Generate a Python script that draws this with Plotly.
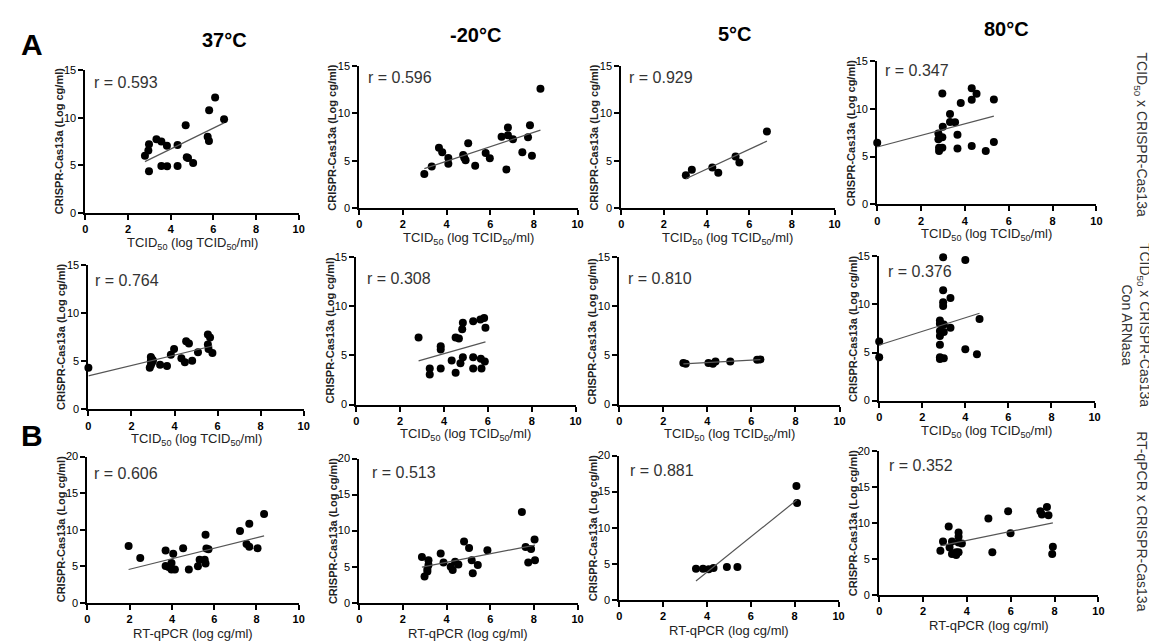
import numpy as np
import plotly.graph_objects as go

# ---------------- data ----------------
# Row A1: TCID50 x CRISPR-Cas13a
tcid_37_x = [2.79, 2.98, 2.95, 2.98, 3.33, 3.56, 3.82, 3.56, 3.83, 4.32, 4.32, 4.70, 4.81, 4.75, 5.05, 5.73, 5.79, 5.80, 6.08, 6.50]
tcid_37_y = [6.02, 7.22, 6.57, 4.40, 7.74, 7.50, 7.05, 4.95, 4.92, 7.15, 4.95, 9.22, 5.78, 5.85, 5.26, 8.00, 7.57, 10.77, 12.11, 9.84]

tcid_m20_x = [2.98, 3.32, 3.65, 3.80, 4.08, 4.08, 4.76, 4.81, 4.87, 4.99, 5.31, 5.79, 5.98, 6.52, 6.81, 6.81, 6.74, 7.04, 7.47, 7.73, 7.82, 7.91, 8.30]
tcid_m20_y = [3.62, 4.41, 6.38, 5.90, 5.31, 4.69, 5.62, 5.34, 5.07, 6.86, 4.48, 5.83, 5.28, 7.55, 8.52, 7.69, 4.10, 7.28, 5.90, 7.48, 8.76, 5.55, 12.59]

tcid_5_x = [3.03, 3.31, 4.27, 4.55, 5.36, 5.54, 6.83]
tcid_5_y = [3.48, 4.07, 4.31, 3.76, 5.45, 4.83, 8.10]

tcid_80_x = [0.00, 2.79, 2.79, 2.82, 2.82, 2.97, 2.97, 2.97, 2.99, 3.32, 3.32, 3.55, 3.66, 3.66, 3.81, 4.31, 4.31, 4.31, 4.53, 4.95, 5.32, 5.32]
tcid_80_y = [6.44, 7.43, 6.82, 5.92, 5.58, 7.02, 5.92, 11.61, 8.12, 9.45, 8.63, 8.60, 7.29, 5.86, 10.62, 12.16, 10.96, 6.10, 11.58, 5.58, 10.99, 6.54]

# Row A2: TCID50 x CRISPR-Cas13a con ARNasa
rnase_37_x = [0.00, 2.85, 2.90, 2.95, 2.90, 2.95, 2.90, 3.00, 3.33, 3.65, 3.83, 3.98, 4.32, 4.48, 4.54, 4.67, 4.82, 5.09, 5.55, 5.65, 5.55, 5.58, 5.76]
rnase_37_y = [4.34, 4.35, 4.60, 4.85, 5.05, 5.25, 5.45, 5.10, 4.65, 4.51, 5.70, 6.28, 5.33, 4.92, 7.09, 6.86, 5.06, 5.94, 7.80, 7.47, 6.75, 6.28, 5.87]

rnase_m20_x = [2.84, 3.35, 3.35, 3.85, 3.85, 3.85, 4.35, 4.53, 4.53, 4.68, 4.75, 4.86, 4.86, 4.83, 5.33, 5.33, 5.33, 5.66, 5.68, 5.71, 5.83, 5.86, 5.89]
rnase_m20_y = [6.83, 3.67, 3.07, 5.93, 5.60, 3.67, 4.50, 3.23, 6.83, 6.73, 4.20, 4.83, 8.33, 7.67, 8.50, 4.83, 3.67, 8.67, 4.67, 3.67, 8.83, 4.40, 7.83]

rnase_5_x = [2.91, 3.02, 4.05, 4.25, 4.37, 5.04, 6.26, 6.41]
rnase_5_y = [4.23, 4.17, 4.23, 4.17, 4.40, 4.40, 4.57, 4.60]

rnase_80_x = [0.00, 0.00, 2.82, 2.82, 2.82, 2.82, 2.82, 2.82, 2.82, 2.97, 2.97, 2.97, 2.97, 3.00, 3.00, 3.00, 3.31, 3.31, 4.00, 4.00, 4.54, 4.66]
rnase_80_y = [6.14, 4.50, 8.32, 8.00, 7.23, 6.72, 5.80, 4.50, 4.33, 14.90, 11.49, 10.23, 9.85, 7.91, 7.13, 4.40, 10.67, 7.57, 14.63, 5.35, 4.81, 8.49]

# Row B: RT-qPCR x CRISPR-Cas13a
pcr_37_x = [1.95, 2.50, 3.70, 3.70, 3.84, 3.98, 4.06, 3.98, 4.14, 4.53, 4.80, 5.23, 5.31, 5.55, 5.59, 5.59, 5.63, 5.73, 7.22, 7.66, 7.53, 7.66, 8.05, 8.36]
pcr_37_y = [7.77, 6.12, 7.14, 5.04, 4.91, 5.45, 6.70, 4.55, 4.55, 7.46, 4.55, 5.00, 5.89, 5.89, 9.29, 5.36, 7.41, 7.32, 9.82, 10.80, 8.04, 7.68, 7.46, 12.14]

pcr_m20_x = [2.87, 2.99, 3.17, 3.17, 3.12, 3.12, 3.73, 3.86, 4.19, 4.28, 4.39, 4.54, 4.80, 5.03, 5.15, 5.20, 5.43, 5.87, 7.45, 7.62, 7.74, 7.87, 8.03, 8.05]
pcr_m20_y = [6.36, 3.64, 5.91, 5.23, 4.68, 4.32, 6.82, 5.59, 5.00, 4.55, 5.68, 5.32, 8.50, 7.59, 5.91, 4.09, 5.23, 7.27, 12.59, 7.73, 5.59, 7.45, 8.77, 5.91]

pcr_5_x = [3.50, 3.82, 4.08, 4.30, 4.91, 5.39, 8.08, 8.11]
pcr_5_y = [4.32, 4.32, 4.23, 4.41, 4.55, 4.55, 15.77, 13.41]

pcr_80_x = [2.79, 2.91, 3.17, 3.21, 3.32, 3.32, 3.51, 3.51, 3.62, 3.62, 3.62, 3.62, 3.77, 4.98, 5.16, 5.88, 5.99, 7.35, 7.42, 7.65, 7.72, 7.92, 7.89]
pcr_80_y = [6.14, 7.41, 9.50, 6.59, 7.41, 5.68, 5.91, 5.55, 8.64, 8.05, 7.27, 5.91, 7.14, 10.59, 5.91, 11.59, 8.55, 11.59, 11.14, 12.18, 11.05, 6.68, 5.68]

r_labels = ["0.593", "0.596", "0.929", "0.347",
            "0.764", "0.308", "0.810", "0.376",
            "0.606", "0.513", "0.881", "0.352"]
temp_labels = ["37°C", "-20°C", "5°C", "80°C"]
row_labels = ["TCID<sub>50</sub> x CRISPR-Cas13a",
              "TCID<sub>50</sub> x CRISPR-Cas13a<br>Con ARNasa",
              "RT-qPCR x CRISPR-Cas13a"]
x_title_tcid = "TCID<sub>50</sub> (log TCID<sub>50</sub>/ml)"
x_title_pcr = "RT-qPCR (log cg/ml)"
y_title = "CRISPR-Cas13a (Log cg/ml)"
x_ticks = [0, 2, 4, 6, 8, 10]
y_ticks_a = [0, 5, 10, 15]
y_ticks_b = [0, 5, 10, 15, 20]

series = [
    (tcid_37_x, tcid_37_y), (tcid_m20_x, tcid_m20_y), (tcid_5_x, tcid_5_y), (tcid_80_x, tcid_80_y),
    (rnase_37_x, rnase_37_y), (rnase_m20_x, rnase_m20_y), (rnase_5_x, rnase_5_y), (rnase_80_x, rnase_80_y),
    (pcr_37_x, pcr_37_y), (pcr_m20_x, pcr_m20_y), (pcr_5_x, pcr_5_y), (pcr_80_x, pcr_80_y),
]

# ---------------- layout (pixel boxes of each plot area) ----------------
W, H = 1157, 641
boxes = [
    (75, 290, 57, 203), (351, 571, 53, 198), (615, 830, 53, 198), (873, 1094, 48, 194),
    (78, 295, 256, 403), (348, 569, 248, 398), (613, 835, 248, 398), (875, 1092, 247, 394),
    (77, 290, 451, 600), (351, 571, 453, 600), (613, 834, 450, 597), (875, 1096, 445, 592),
]
r_offsets = [(7, 13), (7, 12), (6, 12), (6, 10), (5, 16), (9, 22), (7, 22), (7, 15),
             (5, 17), (11, 14), (9, 15), (8, 15)]

FONT = "Liberation Sans, Arial, sans-serif"

def px(x):
    return x / W

def py(y):
    return 1 - y / H

fig = go.Figure()
annotations = []
layout = {}

for i, ((xs, ys), (x0, x1, yt, yb)) in enumerate(zip(series, boxes)):
    k = i + 1
    row = i // 4
    xa = "x" if k == 1 else f"x{k}"
    ya = "y" if k == 1 else f"y{k}"
    ymax = 20 if row == 2 else 15
    yt_vals = y_ticks_b if row == 2 else y_ticks_a

    fig.add_trace(go.Scatter(x=xs, y=ys, mode="markers", xaxis=xa, yaxis=ya,
                             marker=dict(color="black", size=8), cliponaxis=False,
                             showlegend=False, hoverinfo="skip"))
    slope, icpt = np.polyfit(np.array(xs), np.array(ys), 1)
    lx = np.array([min(xs), max(xs)])
    fig.add_trace(go.Scatter(x=lx, y=slope * lx + icpt, mode="lines", xaxis=xa, yaxis=ya,
                             line=dict(color="#555555", width=1.2), cliponaxis=False,
                             showlegend=False, hoverinfo="skip"))

    axis_common = dict(showgrid=False, zeroline=False, showline=True, linecolor="black",
                       linewidth=2, ticks="outside", ticklen=5, tickwidth=2, tickcolor="black")
    layout["xaxis" if k == 1 else f"xaxis{k}"] = dict(
        domain=[px(x0), px(x1)], anchor=ya, range=[0, 10], tickvals=x_ticks,
        tickfont=dict(family=FONT, size=11, color="black", weight="bold"), **axis_common)
    layout["yaxis" if k == 1 else f"yaxis{k}"] = dict(
        domain=[py(yb), py(yt)], anchor=xa, range=[0, ymax], tickvals=yt_vals,
        tickfont=dict(family=FONT, size=11, color="black"), **axis_common)

    # axis titles
    annotations.append(dict(x=px((x0 + x1) / 2), y=py(yb + 31), xref="paper", yref="paper",
                            text=x_title_pcr if row == 2 else x_title_tcid, showarrow=False,
                            xanchor="center", yanchor="middle",
                            font=dict(family=FONT, size=13, color="#222")))
    annotations.append(dict(x=px(x0 - 27), y=py((yt + yb) / 2), xref="paper", yref="paper",
                            text=y_title, showarrow=False, textangle=-90,
                            xanchor="center", yanchor="middle",
                            font=dict(family=FONT, size=11, color="#222", weight="bold")))
    # r label
    dx, dy = r_offsets[i]
    annotations.append(dict(x=px(x0 + dx), y=py(yt + dy), xref="paper", yref="paper",
                            text="r = " + r_labels[i], showarrow=False,
                            xanchor="left", yanchor="middle",
                            font=dict(family=FONT, size=16, color="#333")))

# column titles
for t, (cx, cy) in zip(temp_labels, [(215, 27), (468, 21), (730, 20), (1003, 15)]):
    annotations.append(dict(x=px(cx), y=py(cy), xref="paper", yref="paper", text=t,
                            showarrow=False, xanchor="center", yanchor="middle",
                            font=dict(family=FONT, size=20, color="black", weight="bold")))

# panel letters
for t, (cx, cy) in zip(["A", "B"], [(21, 31), (21, 430)]):
    annotations.append(dict(x=px(cx), y=py(cy), xref="paper", yref="paper", text=t,
                            showarrow=False, xanchor="center", yanchor="middle",
                            font=dict(family=FONT, size=30, color="black", weight="bold")))

# row labels on the right
for t, (cx, cy) in zip(row_labels, [(1139, 123), (1134, 317), (1140, 517)]):
    annotations.append(dict(x=px(cx), y=py(cy), xref="paper", yref="paper", text=t,
                            showarrow=False, textangle=90, xanchor="center", yanchor="middle",
                            font=dict(family=FONT, size=14, color="#333")))

fig.update_layout(width=W, height=H, margin=dict(l=0, r=0, t=0, b=0),
                  paper_bgcolor="white", plot_bgcolor="white",
                  annotations=annotations, **layout)

fig.write_html("out.html")
